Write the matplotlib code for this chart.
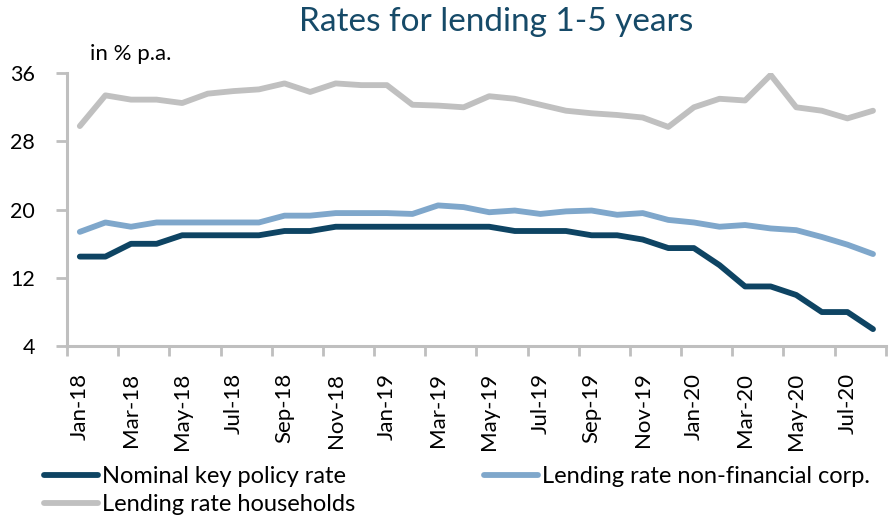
import numpy as np
import matplotlib.pyplot as plt

months = ['Jan-18', 'Feb-18', 'Mar-18', 'Apr-18', 'May-18', 'Jun-18', 'Jul-18', 'Aug-18',
          'Sep-18', 'Oct-18', 'Nov-18', 'Dec-18', 'Jan-19', 'Feb-19', 'Mar-19', 'Apr-19',
          'May-19', 'Jun-19', 'Jul-19', 'Aug-19', 'Sep-19', 'Oct-19', 'Nov-19', 'Dec-19',
          'Jan-20', 'Feb-20', 'Mar-20', 'Apr-20', 'May-20', 'Jun-20', 'Jul-20', 'Aug-20']

policy_rate = [14.5, 14.5, 16.0, 16.0, 17.0, 17.0, 17.0, 17.0, 17.5, 17.5, 18.0, 18.0,
               18.0, 18.0, 18.0, 18.0, 18.0, 17.5, 17.5, 17.5, 17.0, 17.0, 16.5, 15.5,
               15.5, 13.5, 11.0, 11.0, 10.0, 8.0, 8.0, 6.0]

corp_rate = [17.4, 18.5, 18.0, 18.5, 18.5, 18.5, 18.5, 18.5, 19.3, 19.3, 19.6, 19.6,
             19.6, 19.5, 20.5, 20.3, 19.7, 19.9, 19.5, 19.8, 19.9, 19.4, 19.6, 18.8,
             18.5, 18.0, 18.2, 17.8, 17.6, 16.8, 15.9, 14.8]

household_rate = [29.8, 33.4, 32.9, 32.9, 32.5, 33.6, 33.9, 34.1, 34.8, 33.8, 34.8, 34.6,
                  34.6, 32.3, 32.2, 32.0, 33.3, 33.0, 32.3, 31.6, 31.3, 31.1, 30.8, 29.7,
                  32.0, 33.0, 32.8, 35.8, 32.0, 31.6, 30.7, 31.6]

yticks = [4, 12, 20, 28, 36]

fig = plt.figure(figsize=(8.89, 5.19), dpi=100)
ax = fig.add_axes([0.0754, 0.333, 0.921, 0.526])

x = np.arange(len(months))
l1, = ax.plot(x, policy_rate, color='#0E4463', lw=4.2, solid_capstyle='round', label='Nominal key policy rate')
l2, = ax.plot(x, corp_rate, color='#7FA7CB', lw=4.2, solid_capstyle='round', label='Lending rate non-financial corp.')
l3, = ax.plot(x, household_rate, color='#C0C0C0', lw=4.2, solid_capstyle='round', label='Lending rate households')

ax.set_xlim(-0.5, len(months) - 0.5)
ax.set_ylim(4, 36)
ax.set_yticks(yticks)
ax.set_yticklabels([str(v) for v in yticks], fontsize=15.5, family='Lato')

ax.set_xticks(x[::2])
ax.set_xticklabels(months[::2], rotation=90, fontsize=16, family='Lato')
ax.set_xticks(np.arange(-0.5, len(months), 2), minor=True)
ax.tick_params(axis='x', which='major', length=0, pad=19)
ax.tick_params(axis='x', which='minor', length=7, width=2, color='#BFBFBF', direction='out')
ax.tick_params(axis='y', length=8, width=2, color='#BFBFBF', direction='out', pad=15)

for s in ['top', 'right']:
    ax.spines[s].set_visible(False)
for s in ['left', 'bottom']:
    ax.spines[s].set_color('#BFBFBF')
    ax.spines[s].set_linewidth(2.2)
ax.spines['left'].set_bounds(4, 36)

fig.text(0.5585, 0.957, 'Rates for lending 1-5 years', ha='center', va='center',
         fontsize=24, color='#164A68', family='Lato')
fig.text(0.101, 0.895, 'in % p.a.', ha='left', va='center', fontsize=16, family='Lato')

# column-major fill: policy / households in column 1, corp in column 2
leg = fig.legend(handles=[l1, l3, l2], loc='upper left', bbox_to_anchor=(0.031, 0.134), ncol=2,
                 frameon=False, prop={'family': 'Lato', 'size': 17}, handlelength=2.3,
                 handletextpad=0.15, columnspacing=5.45, labelspacing=0.3, borderpad=0.2)

fig.savefig('out.png', dpi=100)
